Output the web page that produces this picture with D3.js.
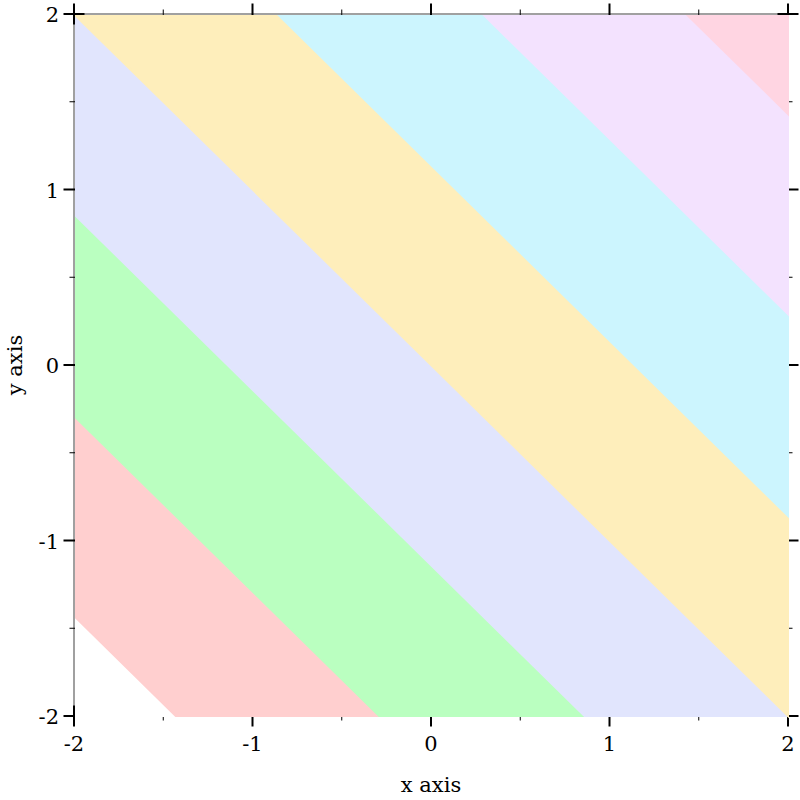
<!DOCTYPE html>
<html>
<head>
<meta charset="utf-8">
<script src="https://cdn.jsdelivr.net/npm/d3@7"></script>
<style>
  body { margin: 0; background: #fff; }
  text { font-family: "DejaVu Serif", serif; font-size: 21px; fill: #000; }
</style>
</head>
<body>
<svg id="chart" width="800" height="800"></svg>
<script>
// contour levels of z = x + y (lowest band is white)
var levels = [-4, -3.43, -2.29, -1.14, 0, 1.14, 2.29, 3.43];
var bandColors = ["#ffffff", "#ffcfcf", "#baffc0", "#e1e5fd", "#feeebb", "#ccf5fe", "#f3e2fe", "#ffd5e2"];
var majorTicks = [-2, -1, 0, 1, 2];
var minorTicks = [-1.5, -0.5, 0.5, 1.5];
var xDomain = [-2, 2], yDomain = [-2, 2];

var svg = d3.select("#chart");

var x = d3.scaleLinear().domain(xDomain).range([74, 788]);
var y = d3.scaleLinear().domain(yDomain).range([716, 14]);

// left and top axis lines
svg.append("line").attr("x1", x(-2)).attr("x2", x(-2)).attr("y1", y(2)).attr("y2", y(-2))
  .attr("stroke", "#808080").attr("stroke-width", 1.5);
svg.append("line").attr("x1", x(-2)).attr("x2", x(2)).attr("y1", y(2)).attr("y2", y(2))
  .attr("stroke", "#808080").attr("stroke-width", 1.5);

//
// ticks on all four sides, fills cover the inner part
//
var g = svg.append("g");
function tickLines(vals, len, w) {
  vals.forEach(function(v) {
    // bottom / top
    [716, 14].forEach(function(py) {
      g.append("line").attr("x1", x(v)).attr("x2", x(v))
        .attr("y1", py - len).attr("y2", py + len)
        .attr("stroke", "#000").attr("stroke-width", w);
    });
    // left / right
    [74, 788].forEach(function(px) {
      g.append("line").attr("y1", y(v)).attr("y2", y(v))
        .attr("x1", px - len).attr("x2", px + len)
        .attr("stroke", "#000").attr("stroke-width", w);
    });
  });
}
tickLines(majorTicks, 10.5, 2);
tickLines(minorTicks, 4.5, 1);

//
// region x+y >= level, clipped to the plot square (Sutherland-Hodgman)
//
function region(level) {
  var corners = [[xDomain[0], yDomain[0]], [xDomain[1], yDomain[0]],
                 [xDomain[1], yDomain[1]], [xDomain[0], yDomain[1]]];
  var out = [];
  for (var i = 0; i < corners.length; i++) {
    var a = corners[i], b = corners[(i + 1) % corners.length];
    var fa = a[0] + a[1] - level, fb = b[0] + b[1] - level;
    if (fa >= 0) out.push(a);
    if ((fa >= 0) != (fb >= 0)) {
      var t = fa / (fa - fb);
      out.push([a[0] + t * (b[0] - a[0]), a[1] + t * (b[1] - a[1])]);
    }
  }
  return out;
}

svg.append("defs").append("clipPath").attr("id", "plotclip")
  .append("rect").attr("x", x(-2) + 1).attr("y", y(2) + 1)
  .attr("width", x(2) - x(-2) + 1).attr("height", y(-2) - y(2) + 1);

var line = d3.line().x(function(d) { return x(d[0]); }).y(function(d) { return y(d[1]); });

svg.append("g").attr("clip-path", "url(#plotclip)")
  .selectAll("path")
  .data(levels)
  .enter().append("path")
  .attr("d", function(d) { return line(region(d)) + "Z"; })
  .attr("fill", function(d, i) { return bandColors[i]; })
  .attr("stroke", function(d, i) { return bandColors[i]; })
  .attr("stroke-width", 2);

// tick labels
svg.append("g").selectAll("text").data(majorTicks).enter().append("text")
  .attr("x", function(d) { return x(d); })
  .attr("y", 751)
  .attr("text-anchor", "middle")
  .text(function(d) { return d; });

svg.append("g").selectAll("text").data(majorTicks).enter().append("text")
  .attr("x", 59)
  .attr("y", function(d) { return y(d) + 8; })
  .attr("text-anchor", "end")
  .text(function(d) { return d; });

// axis titles
svg.append("text").attr("x", (x(-2) + x(2)) / 2).attr("y", 792)
  .attr("text-anchor", "middle").text("x axis");
svg.append("text").attr("transform", "translate(22," + (y(-2) + y(2)) / 2 + ") rotate(-90)")
  .attr("text-anchor", "middle").text("y axis");
</script>
</body>
</html>
